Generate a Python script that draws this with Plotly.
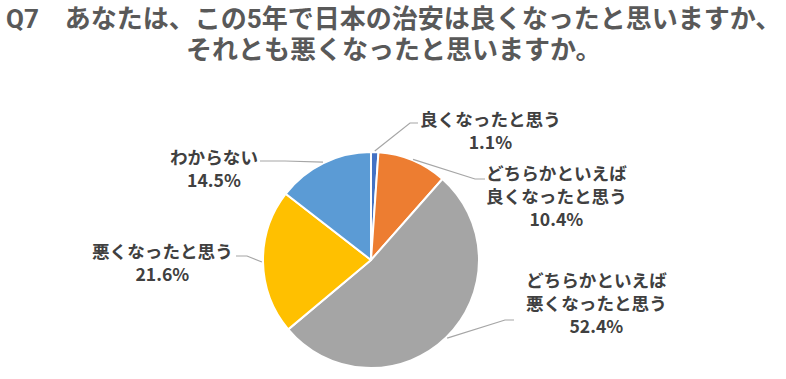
import math
import plotly.graph_objects as go

# ---- data ----
categories = ["良くなったと思う", "どちらかといえば\n良くなったと思う", "どちらかといえば\n悪くなったと思う",
              "悪くなったと思う", "わからない"]
values = [1.1, 10.4, 52.4, 21.6, 14.5]
colors = ["#4472C4", "#ED7D31", "#A5A5A5", "#FFC000", "#5B9BD5"]
title_lines = ["Q7　あなたは、この5年で日本の治安は良くなったと思いますか、", "それとも悪くなったと思いますか。"]

W, H = 786, 379
CX, CY, R = 371, 260, 108

# label layout (pixel): text block center, elbow point, line end point
label_pos = [
    dict(x=490, y=129.5, elbow=(410, 123), end=(418, 123)),
    dict(x=556, y=195, elbow=(475, 179), end=(485, 179)),
    dict(x=596, y=302, elbow=(505, 320), end=(514, 320)),
    dict(x=162, y=261.5, elbow=(247, 256), end=(236, 256)),
    dict(x=214, y=167.5, elbow=(285, 161), end=(260, 161)),
]
FONT = "Noto Sans CJK JP"
TITLE_FONT = "Roboto, 'Noto Sans CJK JP'"
LABEL_COLOR = "#404040"

def px(x):
    return x / W

def py(y):
    return 1 - y / H

fig = go.Figure(go.Pie(
    labels=[c.replace("\n", "") for c in categories],
    values=values,
    sort=False,
    direction="clockwise",
    rotation=0,
    marker=dict(colors=colors, line=dict(color="white", width=2)),
    textinfo="none",
    showlegend=False,
    domain=dict(x=[px(CX - R), px(CX + R)], y=[py(CY + R), py(CY - R)]),
))

annotations = []
shapes = []
total = sum(values)
cum = 0.0
for cat, val, pos in zip(categories, values, label_pos):
    mid = (cum + val / 2) / total * 2 * math.pi
    cum += val
    sx = CX + R * 1.01 * math.sin(mid)
    sy = CY - R * 1.01 * math.cos(mid)
    ex, ey = pos["elbow"]
    fx, fy = pos["end"]
    shapes.append(dict(
        type="path", xref="paper", yref="paper",
        path=f"M {px(sx)},{py(sy)} L {px(ex)},{py(ey)} L {px(fx)},{py(fy)}",
        line=dict(color="#A6A6A6", width=1.2),
    ))
    text = "<br>".join(cat.split("\n") + [f"{val:.1f}%"])
    annotations.append(dict(
        x=px(pos["x"]), y=py(pos["y"]), xref="paper", yref="paper",
        text=f"<b>{text}</b>", showarrow=False, xanchor="center", yanchor="middle",
        align="center",
        font=dict(family=FONT, size=17.6, color=LABEL_COLOR),
    ))

title_y = [19, 50]
for t, y in zip(title_lines, title_y):
    annotations.append(dict(
        x=px(393), y=py(y), xref="paper", yref="paper",
        text=f"<b>{t}</b>", showarrow=False, xanchor="center", yanchor="middle",
        font=dict(family=TITLE_FONT, size=26, color="#595959"),
    ))

fig.update_layout(
    width=W, height=H, autosize=False,
    margin=dict(l=0, r=0, t=0, b=0),
    paper_bgcolor="white", plot_bgcolor="white",
    annotations=annotations, shapes=shapes,
)

fig.write_html("out.html", config={"displayModeBar": False},
               post_script="document.body.style.margin='0';")
